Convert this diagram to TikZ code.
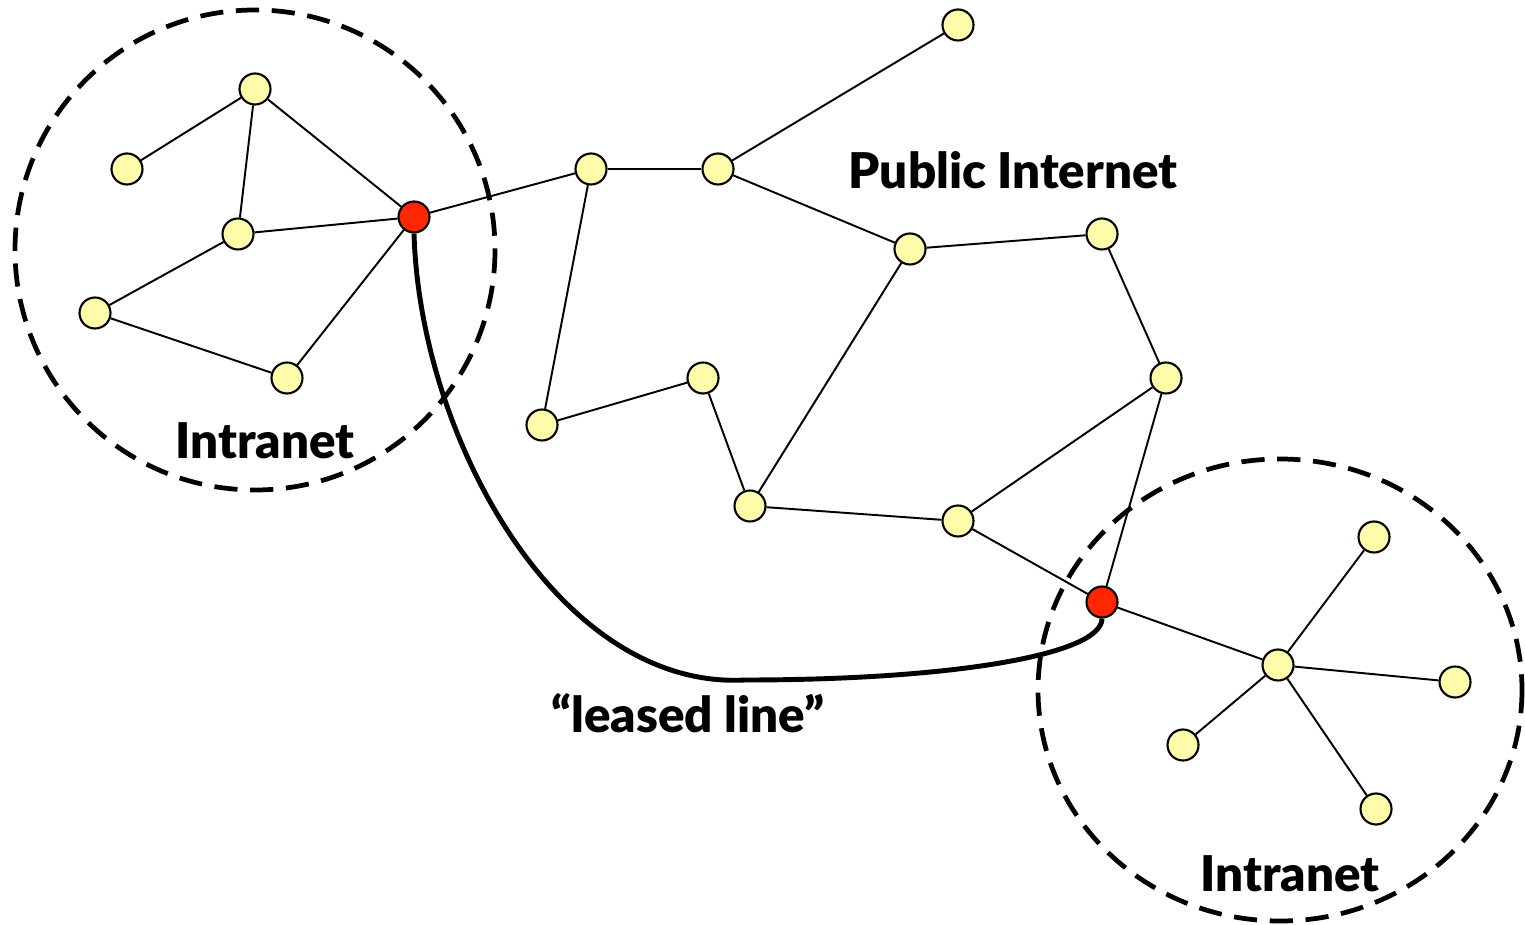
\documentclass[tikz,border=0pt]{standalone}
\usepackage{fontspec}
\setmainfont{Lato}[BoldFont={Lato Black}]
\usepackage{tikz}
\usetikzlibrary{arrows.meta,positioning,calc}
\definecolor{HostYellow}{RGB}{255,252,170}
\definecolor{GateRed}{RGB}{255,38,0}

\begin{document}
\begin{tikzpicture}[x=0.01cm, y=-0.01cm,
    host/.style={circle, draw, line width=0.6pt, fill=HostYellow, minimum size=0.31cm, inner sep=0pt},
    gate/.style={host, fill=GateRed},
    link/.style={line width=0.55pt},
    zone/.style={line width=1.35pt, dash pattern=on 6.6pt off 3.6pt},
    tag/.style={font=\bfseries\fontsize{14}{16}\selectfont}]
        \useasboundingbox (0,0) rectangle (1525,925);
        % intranet areas
        \draw[zone] (255,250) ellipse (240 and 240);
        \draw[zone] (1280,690) ellipse (242 and 231);
        % left intranet
        \node[host] (l1) at (255,89) {};
        \node[host] (l2) at (127,169) {};
        \node[host] (l3) at (238,234) {};
        \node[host] (l4) at (95,313) {};
        \node[host] (l5) at (287,378) {};
        \node[gate] (gl) at (414,217) {};
        % public internet
        \node[host] (p1) at (591,169) {};
        \node[host] (p2) at (718,169) {};
        \node[host] (p3) at (958,25) {};
        \node[host] (p4) at (910,249) {};
        \node[host] (p5) at (1102,234) {};
        \node[host] (p6) at (1166,378) {};
        \node[host] (p7) at (542,425) {};
        \node[host] (p8) at (703,378) {};
        \node[host] (p9) at (750,506) {};
        \node[host] (p10) at (958,521) {};
        \node[gate] (gr) at (1102,602) {};
        % right intranet
        \node[host] (r1) at (1278,665) {};
        \node[host] (r2) at (1374,537) {};
        \node[host] (r3) at (1455,682) {};
        \node[host] (r4) at (1183,745) {};
        \node[host] (r5) at (1376,809) {};
        % links
        \foreach \a/\b in {l2/l1, l1/l3, l1/gl, l3/gl, l3/l4, l4/l5, l5/gl,
            gl/p1, p1/p2, p1/p7, p2/p3, p2/p4, p4/p5, p4/p9, p5/p6, p7/p8,
            p8/p9, p9/p10, p10/p6, p10/gr, p6/gr,
            gr/r1, r1/r2, r1/r3, r1/r4, r1/r5}
          \draw[link] (\a) -- (\b);
        % leased line
        \draw[line width=1.4pt] (gl.south) .. controls (420,440) and (560,690) .. (745,680)
            .. controls (950,680) and (1102,655) .. (gr.south);
        \node[tag] (intl) at (265,441) {Intranet};
        \node[tag] (inet) at (1013,170) {Public Internet};
        \node[tag] (lease) at (688,713) {“leased line”};
        \node[tag] (intr) at (1290,874) {Intranet};
      \end{tikzpicture}
\end{document}
